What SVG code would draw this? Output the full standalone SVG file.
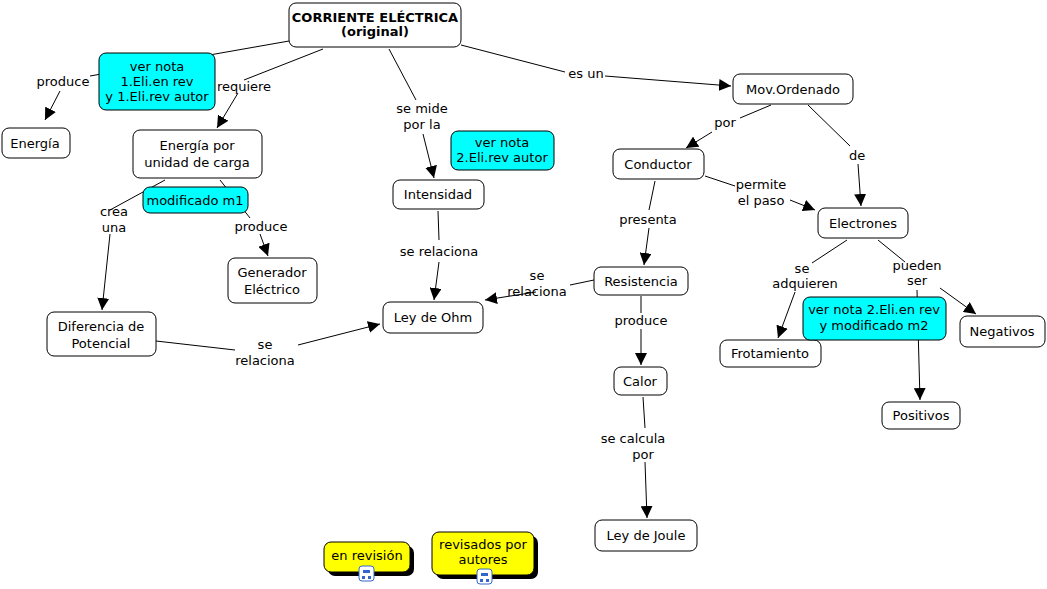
<svg xmlns="http://www.w3.org/2000/svg" width="1047" height="589" viewBox="0 0 1047 589">
<style>
text{font-family:"DejaVu Sans",Verdana,sans-serif;font-size:13px;fill:#000;text-anchor:middle}
.n{fill:#fff;stroke:#000;stroke-width:1}
.c{fill:#00ffff;stroke:#000;stroke-width:1}
.y{fill:#ffff00;stroke:#000;stroke-width:1}
.l{fill:#fff}
#conn line,#conn polyline{stroke:#000;stroke-width:1;fill:none}
</style>
<defs><marker id="a" viewBox="0 0 10 10" refX="10" refY="5" markerWidth="12" markerHeight="12" markerUnits="userSpaceOnUse" orient="auto"><path d="M0,0L10,5L0,10z" fill="#000"/></marker></defs>
<rect width="1047" height="589" fill="#fff"/>
<g id="conn">
<line x1="289" y1="41" x2="90" y2="76"/>
<polyline points="60,91 45,120" marker-end="url(#a)"/>
<line x1="323" y1="49" x2="244" y2="80"/>
<polyline points="238,93 217,128" marker-end="url(#a)"/>
<line x1="389" y1="49" x2="416" y2="100"/>
<polyline points="423,134 434,178" marker-end="url(#a)"/>
<line x1="461" y1="45" x2="565" y2="72"/>
<polyline points="605,76 731,86" marker-end="url(#a)"/>
<line x1="165" y1="180" x2="110" y2="210"/>
<polyline points="110,234 102,310" marker-end="url(#a)"/>
<line x1="220" y1="180" x2="250" y2="218"/>
<polyline points="260,234 268,256" marker-end="url(#a)"/>
<line x1="438" y1="211" x2="439" y2="240"/>
<polyline points="439,262 434,300" marker-end="url(#a)"/>
<line x1="156" y1="341" x2="235" y2="350"/>
<polyline points="298,345 380,324" marker-end="url(#a)"/>
<line x1="771" y1="105" x2="740" y2="118"/>
<polyline points="712,132 686,148" marker-end="url(#a)"/>
<line x1="808" y1="105" x2="850" y2="146"/>
<polyline points="858,164 861,206" marker-end="url(#a)"/>
<line x1="705" y1="176" x2="735" y2="186"/>
<polyline points="790,200 815,210" marker-end="url(#a)"/>
<line x1="655" y1="181" x2="649" y2="210"/>
<polyline points="649,228 644,265" marker-end="url(#a)"/>
<line x1="594" y1="280" x2="570" y2="285"/>
<polyline points="536,292 485,300" marker-end="url(#a)"/>
<line x1="641" y1="296" x2="641" y2="313"/>
<polyline points="641,329 641,365" marker-end="url(#a)"/>
<line x1="643" y1="397" x2="645" y2="428"/>
<polyline points="645,462 647,518" marker-end="url(#a)"/>
<line x1="847" y1="240" x2="812" y2="263"/>
<polyline points="795,292 778,338" marker-end="url(#a)"/>
<line x1="878" y1="240" x2="905" y2="262"/>
<polyline points="940,288 976,314" marker-end="url(#a)"/>
<polyline points="917,290 920,400" marker-end="url(#a)"/>
</g>
<g id="labels">
<text x="63" y="86">produce</text>
<text x="244" y="91">requiere</text>
<text x="422" y="113">se mide</text><text x="422" y="129">por la</text>
<text x="586" y="78">es un</text>
<text x="114" y="216">crea</text><text x="114" y="232">una</text>
<text x="261" y="231">produce</text>
<text x="439" y="256">se relaciona</text>
<text x="265" y="349">se</text><text x="265" y="365">relaciona</text>
<text x="725" y="127">por</text>
<text x="857" y="160">de</text>
<text x="761" y="189">permite</text><text x="761" y="205">el paso</text>
<text x="648" y="224">presenta</text>
<text x="537" y="280">se</text><text x="537" y="296">relaciona</text>
<text x="641" y="325">produce</text>
<text x="633" y="443">se calcula</text><text x="643" y="459">por</text>
<text x="802" y="273">se</text><text x="805" y="288">adquieren</text>
<text x="917" y="270">pueden</text><text x="917" y="285">ser</text>
</g>
<g id="n1"><rect class="n" x="289" y="3" width="172" height="44" rx="7"/><text x="375" y="22" font-weight="bold" font-size="12">CORRIENTE ELÉCTRICA</text><text x="375" y="36" font-weight="bold" font-size="12">(original)</text></g>
<g id="n2"><rect class="c" x="99" y="53" width="116" height="57" rx="7"/><text x="157" y="71" font-size="12">ver nota</text><text x="157" y="86" font-size="12">1.Eli.en rev</text><text x="157" y="101" font-size="12">y 1.Eli.rev autor</text></g>
<g id="n3"><rect class="n" x="2" y="128" width="68" height="30" rx="7"/><text x="35" y="148">Energía</text></g>
<g id="n4"><rect class="n" x="133" y="130" width="129" height="48" rx="7"/><text x="197" y="150">Energía por</text><text x="197" y="167">unidad de carga</text></g>
<g id="n5"><rect class="c" x="143" y="187" width="105" height="26" rx="7"/><text x="195" y="205" font-size="12">modificado m1</text></g>
<g id="n6"><rect class="n" x="393" y="180" width="91" height="29" rx="7"/><text x="438" y="199">Intensidad</text></g>
<g id="n7"><rect class="c" x="451" y="131" width="103" height="39" rx="7"/><text x="502" y="147" font-size="12">ver nota</text><text x="502" y="162" font-size="12">2.Eli.rev autor</text></g>
<g id="n8"><rect class="n" x="228" y="258" width="89" height="45" rx="7"/><text x="272" y="277">Generador</text><text x="272" y="294">Eléctrico</text></g>
<g id="n9"><rect class="n" x="47" y="312" width="109" height="44" rx="7"/><text x="101" y="331">Diferencia de</text><text x="101" y="348">Potencial</text></g>
<g id="n10"><rect class="n" x="383" y="302" width="100" height="31" rx="7"/><text x="433" y="322">Ley de Ohm</text></g>
<g id="n11"><rect class="n" x="733" y="74" width="120" height="30" rx="7"/><text x="793" y="94">Mov.Ordenado</text></g>
<g id="n12"><rect class="n" x="613" y="149" width="91" height="30" rx="7"/><text x="658" y="169">Conductor</text></g>
<g id="n13"><rect class="n" x="818" y="208" width="90" height="30" rx="7"/><text x="863" y="228">Electrones</text></g>
<g id="n14"><rect class="n" x="594" y="267" width="94" height="28" rx="7"/><text x="641" y="286">Resistencia</text></g>
<g id="n15"><rect class="n" x="614" y="367" width="53" height="28" rx="7"/><text x="640" y="386">Calor</text></g>
<g id="n16"><rect class="n" x="595" y="520" width="102" height="31" rx="7"/><text x="646" y="540">Ley de Joule</text></g>
<g id="n17"><rect class="n" x="720" y="340" width="101" height="27" rx="7"/><text x="770" y="358">Frotamiento</text></g>
<g id="n18"><rect class="c" x="803" y="297" width="143" height="43" rx="7"/><text x="874" y="314" font-size="12">ver nota 2.Eli.en rev</text><text x="874" y="330" font-size="12">y modificado m2</text></g>
<g id="n19"><rect class="n" x="960" y="316" width="85" height="31" rx="7"/><text x="1002" y="336">Negativos</text></g>
<g id="n20"><rect class="n" x="882" y="402" width="78" height="27" rx="7"/><text x="921" y="420">Positivos</text></g>
<g id="n21"><rect x="328" y="546" width="86" height="30" rx="7" fill="#000"/><rect class="y" x="324" y="542" width="86" height="30" rx="7"/><text x="367" y="560" font-size="12">en revisión</text>
<rect x="359" y="566" width="15" height="15" rx="3" fill="#fff" stroke="#36c"/><path d="M363,570h7v3h-7zM362,576h3v3h-3zM368,576h3v3h-3z" fill="#36c"/></g>
<g id="n22"><rect x="436" y="536" width="102" height="43" rx="7" fill="#000"/><rect class="y" x="432" y="532" width="102" height="43" rx="7"/><text x="483" y="549" font-size="12">revisados por</text><text x="483" y="564" font-size="12">autores</text>
<rect x="477" y="569" width="15" height="15" rx="3" fill="#fff" stroke="#36c"/><path d="M481,573h7v3h-7zM480,579h3v3h-3zM486,579h3v3h-3z" fill="#36c"/></g>
</svg>
